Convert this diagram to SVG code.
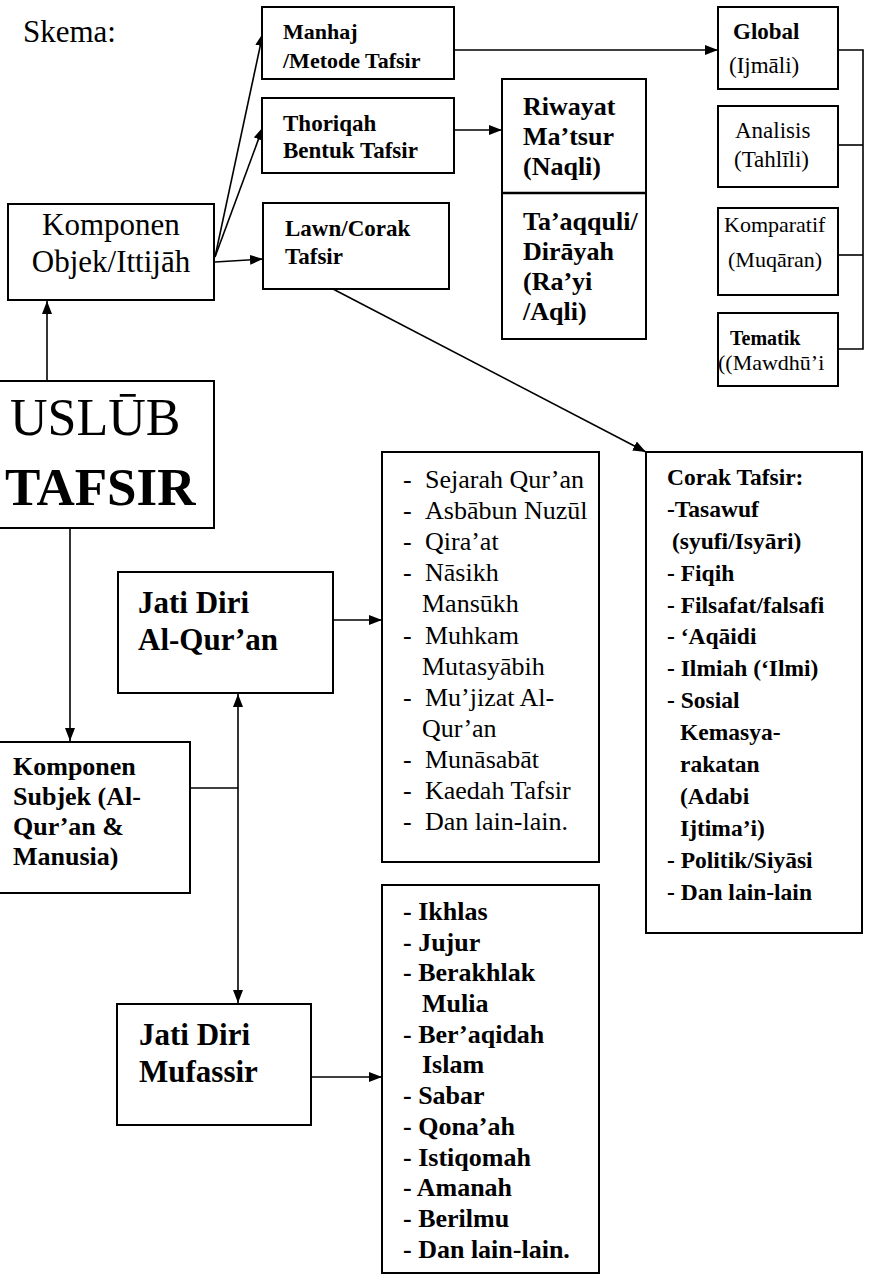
<svg xmlns="http://www.w3.org/2000/svg" width="870" height="1274" viewBox="0 0 870 1274" font-family="'Liberation Serif', 'DejaVu Serif', serif">
<style>
text{font-family:'Liberation Serif','DejaVu Serif',serif;fill:#000}
.b{font-weight:bold}
.box{fill:#fff;stroke:#000;stroke-width:2}
.ln{fill:none;stroke:#000;stroke-width:1.6}
</style>
<defs>
<marker id="ah" viewBox="0 0 13 10" refX="13" refY="5" markerWidth="13" markerHeight="10" orient="auto-start-reverse" markerUnits="userSpaceOnUse">
<path d="M0,0 L13,5 L0,10 z" fill="#000"/>
</marker>
</defs>
<rect width="870" height="1274" fill="#fff"/>
<text x="23" y="42" font-size="31">Skema:</text>

<g id="connectors">
<line class="ln" x1="47" y1="381" x2="47" y2="301" marker-end="url(#ah)"/>
<line class="ln" x1="215" y1="257" x2="263" y2="33" marker-end="url(#ah)"/>
<line class="ln" x1="215" y1="257" x2="263" y2="127" marker-end="url(#ah)"/>
<line class="ln" x1="215" y1="262" x2="263" y2="259" marker-end="url(#ah)"/>
<line class="ln" x1="454" y1="50" x2="718" y2="50" marker-end="url(#ah)"/>
<line class="ln" x1="454" y1="130" x2="502" y2="130" marker-end="url(#ah)"/>
<polyline class="ln" points="838,50 863,50 863,349 838,349"/>
<line class="ln" x1="838" y1="145" x2="863" y2="145"/>
<line class="ln" x1="838" y1="255" x2="863" y2="255"/>
<line class="ln" x1="333" y1="289" x2="646" y2="452" marker-end="url(#ah)"/>
<line class="ln" x1="70" y1="528" x2="70" y2="741" marker-end="url(#ah)"/>
<line class="ln" x1="190" y1="788" x2="238" y2="788"/>
<line class="ln" x1="238" y1="694" x2="238" y2="1003" marker-start="url(#ah)" marker-end="url(#ah)"/>
<line class="ln" x1="333" y1="620" x2="382" y2="620" marker-end="url(#ah)"/>
<line class="ln" x1="311" y1="1077" x2="382" y2="1077" marker-end="url(#ah)"/>
</g>

<g id="manhaj">
<rect class="box" x="262" y="7" width="192" height="72"/>
<text class="b" font-size="22" x="283" y="39">Manhaj</text>
<text class="b" font-size="22" x="283" y="68">/Metode Tafsir</text>
</g>

<g id="thoriqah">
<rect class="box" x="262" y="98" width="192" height="75"/>
<text class="b" font-size="23" x="283" y="131">Thoriqah</text>
<text class="b" font-size="23" x="283" y="158">Bentuk Tafsir</text>
</g>

<g id="lawn">
<rect class="box" x="263" y="203" width="186" height="86"/>
<text class="b" font-size="23" x="285" y="236">Lawn/Corak</text>
<text class="b" font-size="23" x="285" y="264">Tafsir</text>
</g>

<g id="komponen-objek">
<rect class="box" x="8" y="204" width="206" height="96"/>
<text font-size="31" x="111" y="235" text-anchor="middle">Komponen</text>
<text font-size="31" x="111" y="272" text-anchor="middle">Objek/Ittijāh</text>
</g>

<g id="riwayat">
<rect class="box" x="502" y="79" width="144" height="260"/>
<line x1="502" y1="193" x2="646" y2="193" stroke="#000" stroke-width="2.6"/>
<text class="b" font-size="26" x="523" y="115">Riwayat</text>
<text class="b" font-size="26" x="523" y="145">Ma’tsur</text>
<text class="b" font-size="26" x="523" y="175">(Naqli)</text>
<text class="b" font-size="26" x="523" y="230">Ta’aqquli/</text>
<text class="b" font-size="26" x="523" y="260">Dirāyah</text>
<text class="b" font-size="26" x="523" y="290">(Ra’yi</text>
<text class="b" font-size="26" x="523" y="320">/Aqli)</text>
</g>

<g id="global">
<rect class="box" x="718" y="7" width="120" height="82"/>
<text class="b" font-size="23" x="733" y="39">Global</text>
<text font-size="23" x="729" y="73">(Ijmāli)</text>
</g>

<g id="analisis">
<rect class="box" x="718" y="106" width="120" height="81"/>
<text font-size="23" x="735" y="138">Analisis</text>
<text font-size="23" x="734" y="167">(Tahlīli)</text>
</g>

<g id="komparatif">
<rect class="box" x="718" y="208" width="120" height="87"/>
<text font-size="22" x="724" y="232">Komparatif</text>
<text font-size="22" x="728" y="267">(Muqāran)</text>
</g>

<g id="tematik">
<rect class="box" x="718" y="313" width="120" height="73"/>
<text class="b" font-size="20" x="730" y="345">Tematik</text>
<text font-size="22" x="718" y="370">((Mawdhū’i</text>
</g>

<g id="uslub">
<rect class="box" x="-4" y="381" width="218" height="147"/>
<text font-size="52" x="10" y="435">USLŪB</text>
<text class="b" font-size="53" x="5" y="505">TAFSIR</text>
</g>

<g id="jati-diri-quran">
<rect class="box" x="118" y="572" width="215" height="121"/>
<text class="b" font-size="31" x="138" y="613">Jati Diri</text>
<text class="b" font-size="31" x="138" y="650">Al-Qur’an</text>
</g>

<g id="komponen-subjek">
<rect class="box" x="-4" y="742" width="194" height="151"/>
<text class="b" font-size="26" x="13" y="775">Komponen</text>
<text class="b" font-size="26" x="13" y="805">Subjek (Al-</text>
<text class="b" font-size="26" x="13" y="835">Qur’an &amp;</text>
<text class="b" font-size="26" x="13" y="865">Manusia)</text>
</g>

<g id="jati-diri-mufassir">
<rect class="box" x="117" y="1004" width="194" height="121"/>
<text class="b" font-size="31" x="139" y="1045">Jati Diri</text>
<text class="b" font-size="31" x="139" y="1082">Mufassir</text>
</g>

<g id="list-quran">
<rect class="box" x="382" y="452" width="217" height="410"/>
<g font-size="26">
<text x="403" y="488">-</text><text x="425" y="488">Sejarah Qur’an</text>
<text x="403" y="519">-</text><text x="425" y="519">Asbābun Nuzūl</text>
<text x="403" y="550">-</text><text x="425" y="550">Qira’at</text>
<text x="403" y="581">-</text><text x="425" y="581">Nāsikh</text>
<text x="422" y="612">Mansūkh</text>
<text x="403" y="644">-</text><text x="425" y="644">Muhkam</text>
<text x="422" y="675">Mutasyābih</text>
<text x="403" y="706">-</text><text x="425" y="706">Mu’jizat Al-</text>
<text x="422" y="737">Qur’an</text>
<text x="403" y="768">-</text><text x="425" y="768">Munāsabāt</text>
<text x="403" y="799">-</text><text x="425" y="799">Kaedah Tafsir</text>
<text x="403" y="830">-</text><text x="425" y="830">Dan lain-lain.</text>
</g>
</g>

<g id="corak">
<rect class="box" x="646" y="452" width="216" height="481"/>
<g class="b" font-size="23.5">
<text x="667" y="485">Corak Tafsir:</text>
<text x="667" y="517">-Tasawuf</text>
<text x="672" y="549">(syufi/Isyāri)</text>
<text x="667" y="581">- Fiqih</text>
<text x="667" y="613">- Filsafat/falsafi</text>
<text x="667" y="644">- ‘Aqāidi</text>
<text x="667" y="676">- Ilmiah (‘Ilmi)</text>
<text x="667" y="708">- Sosial</text>
<text x="680" y="740">Kemasya-</text>
<text x="680" y="772">rakatan</text>
<text x="680" y="804">(Adabi</text>
<text x="680" y="836">Ijtima’i)</text>
<text x="667" y="868">- Politik/Siyāsi</text>
<text x="667" y="900">- Dan lain-lain</text>
</g>
</g>

<g id="list-mufassir">
<rect class="box" x="382" y="885" width="217" height="388"/>
<g class="b" font-size="26">
<text x="403" y="920">- Ikhlas</text>
<text x="403" y="951">- Jujur</text>
<text x="403" y="981">- Berakhlak</text>
<text x="422" y="1012">Mulia</text>
<text x="403" y="1043">- Ber’aqidah</text>
<text x="422" y="1073">Islam</text>
<text x="403" y="1104">- Sabar</text>
<text x="403" y="1135">- Qona’ah</text>
<text x="403" y="1166">- Istiqomah</text>
<text x="403" y="1196">- Amanah</text>
<text x="403" y="1227">- Berilmu</text>
<text x="403" y="1258">- Dan lain-lain.</text>
</g>
</g>
</svg>
